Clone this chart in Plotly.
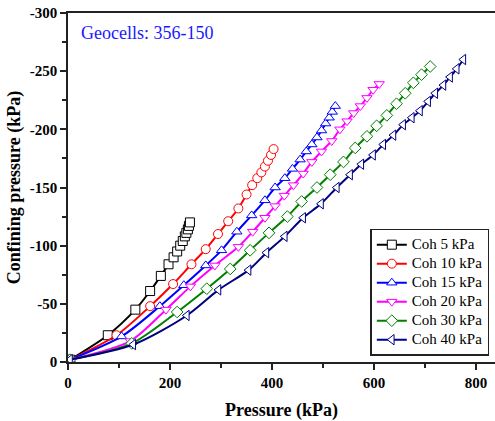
import plotly.graph_objects as go

names = ["Coh 5 kPa", "Coh 10 kPa", "Coh 15 kPa", "Coh 20 kPa", "Coh 30 kPa", "Coh 40 kPa"]
colors = ["#000000", "#FF0000", "#0000FF", "#FF00FF", "#008000", "#000080"]
symbols = ["square", "circle", "triangle-up", "triangle-down", "diamond", "triangle-left"]

x_coh5 = [4, 78, 132, 161, 182, 197, 207, 214, 220, 225, 229, 232, 235, 237, 239]
y_coh5 = [-2, -23, -45, -61, -74, -84, -90, -95, -100, -104, -108, -111, -114, -117, -120]

x_coh10 = [4, 95, 161, 206, 242, 270, 294, 314, 334, 350, 361, 371, 379, 386, 392, 398, 403]
y_coh10 = [-2, -23, -48, -67, -84, -97, -110, -121, -132, -144, -152, -158, -163, -168, -173, -178, -183]

x_coh15 = [4, 105, 180, 227, 270, 301, 331, 360, 386, 406, 425, 440, 455, 467, 478, 488, 497, 505, 512, 518, 524]
y_coh15 = [-2, -22, -48, -66, -83, -96, -112, -126, -139, -150, -158, -166, -174, -181, -187, -193, -199, -205, -210, -215, -220]

x_coh20 = [4, 122, 192, 240, 288, 334, 362, 386, 406, 424, 442, 461, 478, 497, 517, 533, 547, 560, 573, 586, 598, 610]
y_coh20 = [-2, -18, -45, -65, -83, -99, -112, -124, -134, -143, -152, -162, -172, -181, -190, -200, -207, -214, -220, -227, -234, -239]

x_coh30 = [4, 125, 214, 272, 318, 357, 394, 430, 458, 488, 514, 540, 563, 586, 605, 625, 644, 661, 677, 693, 710]
y_coh30 = [-2, -16, -43, -63, -80, -96, -111, -125, -138, -150, -161, -172, -184, -194, -203, -212, -222, -231, -240, -247, -254]

x_coh40 = [4, 128, 233, 295, 354, 389, 425, 461, 496, 527, 553, 575, 598, 618, 638, 657, 674, 690, 706, 720, 736, 749, 762, 775]
y_coh40 = [-2, -15, -40, -62, -79, -94, -108, -124, -136, -150, -161, -170, -178, -187, -195, -204, -210, -216, -224, -231, -238, -245, -252, -260]

x_ticks = [0, 200, 400, 600, 800]
y_ticks = [0, -50, -100, -150, -200, -250, -300]
y_ticktext = ["0", "-50", "-100", "-150", "-200", "-250", "-300"]

xs = [x_coh5, x_coh10, x_coh15, x_coh20, x_coh30, x_coh40]
ys = [y_coh5, y_coh10, y_coh15, y_coh20, y_coh30, y_coh40]

SERIF = "Liberation Serif"

fig = go.Figure()
for n, c, s, x, y in zip(names, colors, symbols, xs, ys):
    fig.add_trace(go.Scatter(
        x=x, y=y, name='<span style="font-size:15px">' + n + '</span>',
        mode="lines+markers",
        line=dict(color=c, width=2, shape="spline", smoothing=0.8),
        marker=dict(symbol=s, size=9, color="white", line=dict(color=c, width=1)),
    ))

fig.update_layout(
    width=495, height=421,
    margin=dict(l=68, r=0, t=13, b=59),
    paper_bgcolor="white", plot_bgcolor="white",
    font=dict(family=SERIF, color="black"),
    showlegend=True,
    legend=dict(
        x=0.708, y=0.382, xanchor="left", yanchor="top",
        bgcolor="white", bordercolor="#222222", borderwidth=1.5,
        font=dict(family=SERIF, size=12, color="black"),
        itemwidth=30, tracegroupgap=0,
    ),
    annotations=[dict(
        text="Geocells: 356-150", xref="paper", yref="paper",
        x=0.026, y=0.943, xanchor="left", yanchor="middle", showarrow=False,
        font=dict(family=SERIF, size=18, color="#1a1aff"),
    )],
)

fig.update_xaxes(
    range=[0, 837], tickvals=x_ticks,
    ticks="outside", ticklen=6, tickwidth=1.5, tickcolor="#222222",
    minor=dict(tickvals=[100, 300, 500, 700], ticks="outside", ticklen=4, tickwidth=1.5, tickcolor="#222222"),
    showline=True, linecolor="#222222", linewidth=1.5, mirror=True,
    showgrid=False, zeroline=False,
    tickfont=dict(family=SERIF, size=15, color="black", weight="bold"),
    title=dict(text="Pressure (kPa)", font=dict(family=SERIF, size=18, color="black", weight="bold"), standoff=14),
)
fig.update_yaxes(
    range=[0, -300], tickvals=y_ticks, ticktext=y_ticktext,
    ticks="outside", ticklen=6, tickwidth=1.5, tickcolor="#222222",
    minor=dict(tickvals=[-25, -75, -125, -175, -225, -275], ticks="outside", ticklen=4, tickwidth=1.5, tickcolor="#222222"),
    showline=True, linecolor="#222222", linewidth=1.5, mirror=False,
    showgrid=False, zeroline=False,
    tickfont=dict(family=SERIF, size=15, color="black", weight="bold"),
    title=dict(text="Confining pressure (kPa)", font=dict(family=SERIF, size=18, color="black", weight="bold"), standoff=4),
)

fig.write_html("out.html")
